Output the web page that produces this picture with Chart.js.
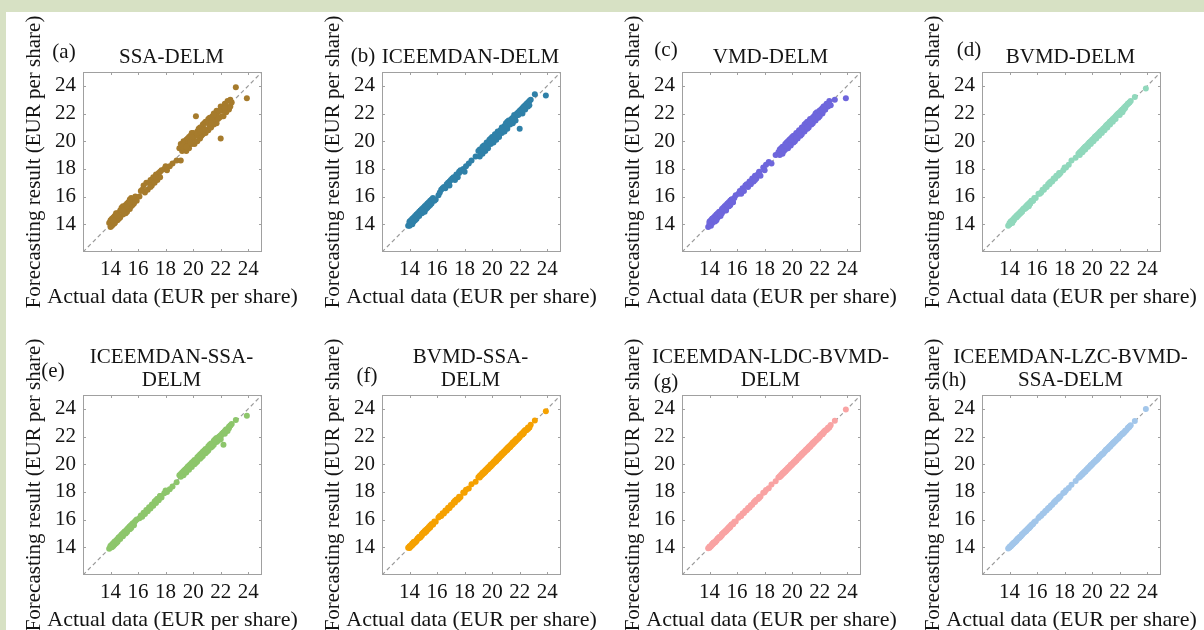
<!DOCTYPE html>
<html>
<head>
<meta charset="utf-8">
<script src="https://cdn.jsdelivr.net/npm/chart.js@4.4.1/dist/chart.umd.min.js"></script>
<style>
  html, body { margin: 0; padding: 0; }
  body { width: 1204px; height: 630px; background: #fff; position: relative; overflow: hidden; }
  canvas { position: absolute; }
  .band { position: absolute; background: #d7e1c4; z-index: 2; }
</style>
</head>
<body>
<div class="band" style="left:0;top:0;width:1204px;height:12px"></div>
<div class="band" style="left:0;top:0;width:6px;height:630px"></div>
<script>
// test-set prices, shared by all eight models
var actual = [
  13.9, 14.0, 14.0, 14.1, 14.2, 14.2, 14.3, 14.3, 14.4, 14.5,
  14.5, 14.6, 14.7, 14.7, 14.8, 14.9, 14.9, 15.0, 15.1, 15.1,
  15.2, 15.2, 15.3, 15.4, 15.4, 15.5, 15.5, 15.6, 15.7, 15.8,
  15.9, 16.1, 16.3, 16.4, 16.5, 16.6, 16.7, 16.8, 16.9, 17.0,
  17.1, 17.2, 17.3, 17.4, 17.5, 17.6, 17.7, 17.9, 18.0, 18.1,
  18.3, 18.5, 18.8, 19.0, 19.1, 19.1, 19.2, 19.3, 19.3, 19.4,
  19.5, 19.5, 19.6, 19.7, 19.7, 19.8, 19.9, 19.9, 20.0, 20.1,
  20.1, 20.2, 20.3, 20.3, 20.4, 20.5, 20.5, 20.6, 20.7, 20.7,
  20.8, 20.9, 20.9, 21.0, 21.1, 21.1, 21.2, 21.3, 21.3, 21.4,
  21.5, 21.5, 21.6, 21.7, 21.7, 21.8, 21.9, 22.0, 22.0, 22.1,
  22.2, 22.2, 22.3, 22.4, 22.5, 22.6, 22.7, 22.8, 23.1, 23.9,
  14.0, 14.1, 14.3, 14.4, 14.6, 14.8, 15.0, 15.2, 15.3, 15.5,
  15.6, 15.7, 14.2, 14.5, 14.9, 15.4, 16.2, 16.9, 17.3, 17.6,
  19.2, 19.4, 19.6, 19.8, 20.0, 20.2, 20.4, 20.6, 20.8, 21.0,
  21.2, 21.4, 21.6, 21.8, 22.0, 22.2, 22.4, 22.6, 19.3, 19.5,
  19.9, 20.3, 20.7, 21.1, 21.5, 21.9, 22.3, 22.7, 20.5, 21.3
];

var ssaDelm = [
  14.1, 13.8, 14.3, 14.4, 14.0, 14.5, 14.6, 14.1, 14.8, 14.3,
  14.8, 14.4, 15.0, 14.5, 15.2, 14.7, 15.3, 15.1, 15.4, 14.8,
  14.9, 15.5, 15.6, 15.1, 15.8, 15.3, 15.9, 15.8, 15.5, 16.0,
  15.7, 16.0, 16.5, 16.8, 16.3, 17.0, 16.5, 17.0, 17.2, 16.8,
  17.4, 17.0, 17.6, 17.2, 17.7, 17.4, 17.9, 18.0, 18.2, 17.9,
  18.2, 18.4, 18.6, 19.5, 18.6, 19.8, 19.3, 20.0, 19.5, 19.8,
  20.1, 19.3, 19.8, 20.3, 19.5, 20.4, 19.8, 20.6, 20.2, 20.5,
  19.8, 21.8, 20.7, 20.0, 20.9, 20.2, 21.0, 20.4, 21.2, 20.5,
  21.3, 20.6, 21.4, 20.8, 21.6, 20.8, 21.7, 21.0, 21.6, 21.8,
  21.2, 22.0, 21.5, 22.2, 21.3, 22.1, 21.7, 20.2, 22.5, 21.8,
  22.5, 21.8, 22.7, 22.1, 22.9, 22.3, 22.5, 22.8, 23.9, 23.1,
  14.2, 13.9, 14.1, 14.6, 14.5, 15.0, 14.8, 15.3, 15.5, 15.7,
  15.4, 15.6, 14.3, 14.6, 15.0, 15.6, 16.4, 16.7, 17.4, 17.8,
  19.6, 19.9, 20.2, 19.9, 20.6, 20.4, 20.6, 21.0, 20.9, 21.4,
  21.1, 21.5, 21.9, 21.6, 22.3, 22.2, 22.5, 22.4, 19.7, 19.6,
  20.3, 20.6, 20.8, 21.3, 21.9, 22.2, 22.4, 23.0, 20.7, 21.3
];

var iceemdanDelm = [
  13.9, 14.2, 13.9, 14.3, 14.4, 14.0, 14.5, 14.2, 14.6, 14.4,
  14.7, 14.8, 14.6, 14.9, 15.0, 14.8, 15.1, 15.2, 14.9, 15.3,
  15.4, 15.1, 15.5, 15.6, 15.3, 15.7, 15.4, 15.8, 15.9, 15.7,
  15.8, 16.1, 16.5, 16.6, 16.7, 16.6, 16.9, 17.0, 17.1, 17.2,
  17.3, 17.4, 17.2, 17.6, 17.4, 17.8, 17.9, 18.0, 17.8, 18.2,
  18.4, 18.6, 18.9, 19.3, 18.9, 19.4, 19.4, 19.6, 19.1, 19.7,
  19.7, 19.3, 19.9, 19.9, 19.5, 20.1, 20.2, 19.8, 20.3, 20.3,
  19.9, 20.5, 20.5, 20.1, 20.7, 20.6, 20.3, 20.8, 20.6, 21.0,
  21.0, 21.1, 20.7, 21.3, 21.4, 20.9, 21.5, 21.4, 21.2, 21.6,
  21.7, 21.3, 21.9, 21.8, 21.5, 22.0, 22.1, 20.9, 22.2, 22.3,
  22.4, 22.0, 22.5, 22.6, 22.7, 22.8, 22.9, 23.0, 23.4, 23.3,
  14.1, 14.0, 14.4, 14.3, 14.7, 15.0, 14.9, 15.3, 15.2, 15.6,
  15.5, 15.8, 14.3, 14.4, 15.0, 15.5, 16.3, 16.8, 17.4, 17.7,
  19.2, 19.5, 19.6, 19.9, 20.0, 20.3, 20.5, 20.7, 20.9, 21.1,
  21.3, 21.4, 21.6, 21.9, 22.0, 22.2, 22.3, 22.5, 19.4, 19.6,
  20.0, 20.4, 20.8, 21.1, 21.6, 21.9, 22.4, 22.6, 20.4, 21.3
];

var vmdDelm = [
  13.8, 14.1, 14.0, 14.3, 14.1, 14.4, 14.2, 14.5, 14.6, 14.4,
  14.7, 14.5, 14.8, 14.9, 14.6, 15.0, 14.8, 15.2, 15.0, 15.3,
  15.1, 15.4, 15.5, 15.3, 15.6, 15.7, 15.4, 15.8, 15.6, 15.9,
  16.1, 16.2, 16.2, 16.6, 16.4, 16.8, 16.9, 16.7, 17.1, 16.9,
  17.3, 17.1, 17.5, 17.3, 17.6, 17.8, 17.5, 18.1, 17.9, 18.3,
  18.5, 18.4, 19.0, 19.2, 19.4, 19.0, 19.5, 19.3, 19.6, 19.6,
  19.4, 19.8, 19.9, 19.5, 20.0, 20.1, 19.7, 20.2, 20.3, 19.9,
  20.4, 20.0, 20.6, 20.5, 20.2, 20.7, 20.8, 20.4, 21.0, 20.5,
  21.0, 21.2, 20.7, 21.3, 20.9, 21.4, 21.0, 21.6, 21.5, 21.2,
  21.7, 21.3, 21.8, 22.0, 21.5, 22.1, 21.7, 22.2, 21.8, 22.3,
  22.4, 22.0, 22.5, 22.3, 22.7, 22.5, 22.9, 22.6, 23.0, 23.1,
  14.2, 13.9, 14.4, 14.2, 14.8, 14.7, 15.1, 15.0, 15.4, 15.4,
  15.8, 15.6, 14.4, 14.3, 15.1, 15.3, 16.4, 17.0, 17.2, 17.7,
  19.4, 19.3, 19.8, 19.7, 20.2, 20.1, 20.6, 20.5, 21.0, 20.9,
  21.4, 21.3, 21.8, 21.7, 22.2, 22.1, 22.3, 22.7, 19.1, 19.7,
  20.1, 20.2, 20.9, 21.0, 21.7, 21.8, 22.5, 22.6, 20.6, 21.4
];

var bvmdDelm = [
  13.9, 14.1, 14.0, 14.2, 14.2, 14.3, 14.4, 14.3, 14.5, 14.5,
  14.6, 14.7, 14.8, 14.7, 14.9, 14.9, 15.0, 15.1, 15.1, 15.2,
  15.3, 15.2, 15.4, 15.4, 15.5, 15.6, 15.5, 15.7, 15.7, 15.9,
  15.9, 16.2, 16.3, 16.5, 16.5, 16.7, 16.7, 16.9, 16.9, 17.1,
  17.1, 17.3, 17.3, 17.5, 17.5, 17.7, 17.7, 17.9, 18.1, 18.1,
  18.3, 18.6, 18.8, 19.1, 19.2, 19.0, 19.3, 19.4, 19.2, 19.5,
  19.6, 19.4, 19.7, 19.8, 19.6, 19.9, 20.0, 19.8, 20.1, 20.2,
  20.0, 20.3, 20.4, 20.2, 20.5, 20.6, 20.4, 20.7, 20.8, 20.6,
  20.9, 21.0, 20.8, 21.1, 21.2, 21.0, 21.3, 21.4, 21.2, 21.5,
  21.6, 21.4, 21.7, 21.8, 21.6, 21.9, 22.0, 22.1, 21.9, 22.2,
  22.3, 22.1, 22.4, 22.5, 22.6, 22.7, 22.8, 22.9, 23.2, 23.8,
  14.0, 14.2, 14.3, 14.5, 14.6, 14.8, 15.1, 15.2, 15.4, 15.5,
  15.7, 15.7, 14.1, 14.6, 14.9, 15.3, 16.2, 17.0, 17.3, 17.6,
  19.2, 19.5, 19.6, 19.9, 20.0, 20.3, 20.4, 20.7, 20.8, 21.1,
  21.2, 21.5, 21.6, 21.9, 22.0, 22.3, 22.4, 22.7, 19.3, 19.6,
  19.9, 20.4, 20.7, 21.2, 21.5, 22.0, 22.3, 22.8, 20.5, 21.4
];

var iceemdanSsaDelm = [
  13.9, 14.1, 14.0, 14.2, 14.3, 14.1, 14.4, 14.2, 14.5, 14.6,
  14.4, 14.7, 14.8, 14.6, 14.9, 15.0, 14.8, 15.1, 15.2, 15.0,
  15.3, 15.1, 15.4, 15.5, 15.3, 15.6, 15.4, 15.7, 15.8, 15.9,
  16.0, 16.1, 16.2, 16.5, 16.4, 16.7, 16.6, 16.9, 16.8, 17.1,
  17.0, 17.3, 17.2, 17.5, 17.4, 17.7, 17.6, 17.9, 18.1, 18.0,
  18.2, 18.4, 18.7, 19.2, 19.3, 19.1, 19.3, 19.5, 19.2, 19.6,
  19.7, 19.4, 19.8, 19.9, 19.6, 20.0, 20.1, 19.8, 20.2, 20.0,
  20.3, 20.1, 20.5, 20.2, 20.6, 20.4, 20.7, 20.5, 20.9, 20.6,
  21.0, 20.8, 21.1, 20.9, 21.3, 21.0, 21.4, 21.2, 21.5, 21.3,
  21.7, 21.4, 21.8, 21.6, 21.9, 21.7, 22.0, 22.1, 21.8, 22.2,
  21.4, 22.3, 22.2, 22.5, 22.4, 22.7, 22.8, 22.9, 23.2, 23.5,
  14.1, 14.0, 14.4, 14.3, 14.7, 14.9, 15.1, 15.2, 15.4, 15.6,
  15.7, 15.6, 14.3, 14.4, 15.0, 15.5, 16.3, 16.9, 17.4, 17.7,
  19.4, 19.5, 19.8, 19.9, 20.1, 20.3, 20.5, 20.8, 20.9, 21.1,
  21.2, 21.5, 21.7, 21.9, 22.0, 22.3, 22.5, 22.6, 19.5, 19.6,
  20.0, 20.4, 20.8, 21.2, 21.6, 22.0, 22.4, 22.8, 20.6, 21.4
];

var bvmdSsaDelm = [
  13.96, 14.07, 13.95, 14.14, 14.15, 14.27, 14.25, 14.38, 14.36, 14.52,
  14.45, 14.63, 14.66, 14.76, 14.74, 14.95, 14.85, 15.07, 15.03, 15.17,
  15.14, 15.27, 15.25, 15.46, 15.35, 15.57, 15.45, 15.66, 15.64, 15.86,
  15.85, 16.15, 16.26, 16.46, 16.45, 16.66, 16.64, 16.86, 16.84, 17.06,
  17.05, 17.26, 17.24, 17.46, 17.44, 17.66, 17.64, 17.95, 17.94, 18.16,
  18.25, 18.56, 18.74, 19.06, 19.05, 19.17, 19.16, 19.36, 19.25, 19.46,
  19.45, 19.57, 19.56, 19.76, 19.64, 19.86, 19.84, 19.97, 19.95, 20.16,
  20.05, 20.26, 20.24, 20.37, 20.35, 20.56, 20.44, 20.66, 20.64, 20.76,
  20.75, 20.96, 20.84, 21.06, 21.04, 21.17, 21.15, 21.36, 21.25, 21.46,
  21.45, 21.57, 21.55, 21.76, 21.65, 21.86, 21.85, 22.06, 21.95, 22.16,
  22.15, 22.26, 22.24, 22.46, 22.45, 22.66, 22.65, 22.86, 23.15, 23.82,
  14.06, 14.05, 14.36, 14.35, 14.66, 14.74, 15.06, 15.15, 15.36, 15.45,
  15.66, 15.65, 14.26, 14.45, 14.96, 15.35, 16.26, 16.85, 17.36, 17.55,
  19.26, 19.35, 19.66, 19.75, 20.06, 20.15, 20.46, 20.55, 20.86, 20.95,
  21.26, 21.35, 21.66, 21.75, 22.06, 22.15, 22.46, 22.55, 19.36, 19.45,
  19.96, 20.25, 20.76, 21.05, 21.56, 21.85, 22.36, 22.65, 20.56, 21.25
];

var ldcBvmdDelm = [
  13.93, 14.04, 13.97, 14.12, 14.18, 14.24, 14.27, 14.34, 14.37, 14.53,
  14.47, 14.63, 14.67, 14.74, 14.77, 14.94, 14.87, 15.04, 15.07, 15.14,
  15.17, 15.24, 15.27, 15.44, 15.37, 15.54, 15.47, 15.64, 15.67, 15.84,
  15.87, 16.14, 16.27, 16.44, 16.47, 16.64, 16.67, 16.84, 16.87, 17.04,
  17.07, 17.24, 17.27, 17.44, 17.47, 17.64, 17.67, 17.94, 17.97, 18.14,
  18.27, 18.54, 18.77, 19.04, 19.07, 19.14, 19.17, 19.34, 19.27, 19.44,
  19.47, 19.54, 19.57, 19.74, 19.67, 19.84, 19.87, 19.94, 19.97, 20.14,
  20.07, 20.24, 20.27, 20.34, 20.37, 20.54, 20.47, 20.64, 20.67, 20.74,
  20.77, 20.94, 20.87, 21.04, 21.07, 21.14, 21.17, 21.34, 21.27, 21.44,
  21.47, 21.54, 21.57, 21.74, 21.67, 21.84, 21.87, 22.04, 21.97, 22.14,
  22.17, 22.24, 22.27, 22.44, 22.47, 22.64, 22.67, 22.84, 23.14, 23.96,
  14.04, 14.07, 14.34, 14.37, 14.64, 14.77, 15.04, 15.17, 15.34, 15.47,
  15.64, 15.67, 14.24, 14.47, 14.94, 15.37, 16.24, 16.87, 17.34, 17.57,
  19.24, 19.37, 19.64, 19.77, 20.04, 20.17, 20.44, 20.57, 20.84, 20.97,
  21.24, 21.37, 21.64, 21.77, 22.04, 22.17, 22.44, 22.57, 19.34, 19.47,
  19.94, 20.27, 20.74, 21.07, 21.54, 21.87, 22.34, 22.67, 20.54, 21.27
];

var lzcBvmdSsaDelm = [
  13.92, 14.02, 13.98, 14.12, 14.18, 14.22, 14.28, 14.32, 14.38, 14.52,
  14.48, 14.62, 14.68, 14.72, 14.78, 14.92, 14.88, 15.02, 15.08, 15.12,
  15.18, 15.22, 15.28, 15.42, 15.38, 15.52, 15.48, 15.62, 15.68, 15.82,
  15.88, 16.12, 16.28, 16.42, 16.48, 16.62, 16.68, 16.82, 16.88, 17.02,
  17.08, 17.22, 17.28, 17.42, 17.48, 17.62, 17.68, 17.92, 17.98, 18.12,
  18.28, 18.52, 18.78, 19.02, 19.08, 19.12, 19.18, 19.32, 19.28, 19.42,
  19.48, 19.52, 19.58, 19.72, 19.68, 19.82, 19.88, 19.92, 19.98, 20.12,
  20.08, 20.22, 20.28, 20.32, 20.38, 20.52, 20.48, 20.62, 20.68, 20.72,
  20.78, 20.92, 20.88, 21.02, 21.08, 21.12, 21.18, 21.32, 21.28, 21.42,
  21.48, 21.52, 21.58, 21.72, 21.68, 21.82, 21.88, 22.02, 21.98, 22.12,
  22.18, 22.22, 22.28, 22.42, 22.48, 22.62, 22.68, 22.82, 23.12, 23.98,
  14.02, 14.08, 14.32, 14.38, 14.62, 14.78, 15.02, 15.18, 15.32, 15.48,
  15.62, 15.68, 14.22, 14.48, 14.92, 15.38, 16.22, 16.88, 17.32, 17.58,
  19.22, 19.38, 19.62, 19.78, 20.02, 20.18, 20.38, 20.62, 20.78, 21.02,
  21.22, 21.38, 21.62, 21.78, 22.02, 22.18, 22.38, 22.62, 19.32, 19.48,
  19.92, 20.28, 20.72, 21.08, 21.52, 21.88, 22.28, 22.72, 20.52, 21.28
];

var tickValues = [14, 16, 18, 20, 22, 24];
var axisMin = 12;
var axisMax = 25;
var xTitle = "Actual data (EUR per share)";
var yTitle = "Forecasting result (EUR per share)";

var panels = [
  { tag: "(a)", name: ["SSA-DELM"], values: ssaDelm, color: "#a67b2c", tagDx: -19, tagY: 52 },
  { tag: "(b)", name: ["ICEEMDAN-DELM"], values: iceemdanDelm, color: "#2f80a8", tagDx: -19, tagY: 56 },
  { tag: "(c)", name: ["VMD-DELM"], values: vmdDelm, color: "#6e66dc", tagDx: -16, tagY: 50 },
  { tag: "(d)", name: ["BVMD-DELM"], values: bvmdDelm, color: "#90d8bc", tagDx: -13, tagY: 50 },
  { tag: "(e)", name: ["ICEEMDAN-SSA-", "DELM"], values: iceemdanSsaDelm, color: "#8dc66b", tagDx: -30, tagY: 56 },
  { tag: "(f)", name: ["BVMD-SSA-", "DELM"], values: bvmdSsaDelm, color: "#f5a100", tagDx: -15, tagY: 61 },
  { tag: "(g)", name: ["ICEEMDAN-LDC-BVMD-", "DELM"], values: ldcBvmdDelm, color: "#f9a3a3", tagDx: -16, tagY: 67 },
  { tag: "(h)", name: ["ICEEMDAN-LZC-BVMD-", "SSA-DELM"], values: lzcBvmdSsaDelm, color: "#a2c6ea", tagDx: -28, tagY: 65 }
];

var FONT = "'Liberation Serif', 'Times New Roman', serif";
var TEXT = "#141414";
var colLeft = [0, 299, 599, 899];
var rowTop = [0, 315];
var plotTop = [72, 80];
var plotLeft = 83;
var plotRight = 262;
var plotSize = 180;
var xAxisHeight = 40;
var canvasW = 300;
var canvasH = 315;

// box frame, inward ticks on all four sides, titles and axis labels
var framePlugin = {
  id: "frame",
  afterDraw: function(chart, args, opts) {
    var ctx = chart.ctx;
    var a = chart.chartArea;
    var sx = chart.scales.x;
    var sy = chart.scales.y;
    ctx.save();
    ctx.strokeStyle = "#a0a0a0";
    ctx.lineWidth = 1;
    ctx.strokeRect(a.left + 0.5, a.top + 0.5, a.right - a.left - 1, a.bottom - a.top - 1);
    ctx.beginPath();
    tickValues.forEach(function(v) {
      var px = Math.round(sx.getPixelForValue(v)) + 0.5;
      var py = Math.round(sy.getPixelForValue(v)) + 0.5;
      ctx.moveTo(px, a.bottom); ctx.lineTo(px, a.bottom - 3);
      ctx.moveTo(px, a.top); ctx.lineTo(px, a.top + 3);
      ctx.moveTo(a.left, py); ctx.lineTo(a.left + 3, py);
      ctx.moveTo(a.right, py); ctx.lineTo(a.right - 3, py);
    });
    ctx.stroke();

    ctx.fillStyle = TEXT;
    ctx.textBaseline = "middle";
    ctx.textAlign = "center";
    var cx = (a.left + a.right) / 2;
    var cy = (a.top + a.bottom) / 2;

    ctx.font = "21px " + FONT;
    var n = opts.name.length;
    opts.name.forEach(function(line, k) {
      ctx.fillText(line, cx - 1, a.top - 15 - (n - 1 - k) * 23);
    });
    ctx.fillText(opts.tag, a.left + opts.tagDx, opts.tagY);

    ctx.font = "22px " + FONT;
    ctx.fillText(xTitle, cx, a.bottom + 45);
    ctx.font = "21px " + FONT;
    ctx.translate(34, cy);
    ctx.rotate(-Math.PI / 2);
    ctx.fillText(yTitle, 0, 0);
    ctx.restore();
  }
};

panels.forEach(function(p, i) {
  var row = Math.floor(i / 4);
  var col = i % 4;
  var top = plotTop[row];
  var canvas = document.createElement("canvas");
  canvas.width = canvasW;
  canvas.height = canvasH;
  canvas.style.left = colLeft[col] + "px";
  canvas.style.top = rowTop[row] + "px";
  document.body.appendChild(canvas);

  new Chart(canvas.getContext("2d"), {
    type: "scatter",
    data: {
      datasets: [
        {
          data: actual.map(function(v, k) { return { x: v, y: p.values[k] }; }),
          backgroundColor: p.color,
          borderColor: p.color,
          borderWidth: 0,
          pointRadius: 3,
          order: 0
        },
        {
          data: [{ x: axisMin, y: axisMin }, { x: axisMax, y: axisMax }],
          showLine: true,
          borderColor: "#9a9a9a",
          borderWidth: 1.2,
          borderDash: [4, 3],
          pointRadius: 0,
          order: 1
        }
      ]
    },
    options: {
      responsive: false,
      animation: false,
      devicePixelRatio: 1,
      layout: {
        padding: { left: 0, top: top, right: canvasW - plotRight, bottom: canvasH - top - plotSize - xAxisHeight }
      },
      plugins: {
        legend: { display: false },
        tooltip: { enabled: false },
        frame: { tag: p.tag, name: p.name, tagDx: p.tagDx, tagY: p.tagY }
      },
      scales: {
        x: {
          type: "linear",
          min: axisMin,
          max: axisMax,
          grid: { display: false, drawTicks: false },
          border: { display: false },
          ticks: { font: { family: FONT, size: 21 }, color: TEXT, padding: 5, maxRotation: 0 },
          afterBuildTicks: function(s) { s.ticks = tickValues.map(function(v) { return { value: v }; }); },
          afterFit: function(s) { s.height = xAxisHeight; }
        },
        y: {
          type: "linear",
          min: axisMin,
          max: axisMax,
          grid: { display: false, drawTicks: false },
          border: { display: false },
          ticks: { font: { family: FONT, size: 21 }, color: TEXT, padding: 7 },
          afterBuildTicks: function(s) { s.ticks = tickValues.map(function(v) { return { value: v }; }); },
          afterFit: function(s) { s.width = plotLeft; }
        }
      }
    },
    plugins: [framePlugin]
  });
});
</script>
</body>
</html>
